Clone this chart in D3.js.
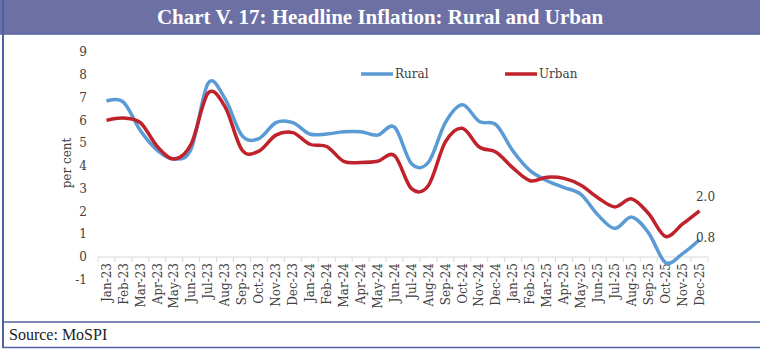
<!DOCTYPE html>
<html lang="en">
<head>
<meta charset="utf-8">
<title>Headline Inflation: Rural and Urban</title>
<script src="https://d3js.org/d3.v7.min.js"></script>
<style>
  body { margin: 0; background: #fff; }
  text { font-family: "Liberation Serif", "DejaVu Serif", serif; }
  .title { fill: #fff; font-weight: bold; font-size: 21px; }
  .tick-label { fill: #404040; font-size: 12px; font-family: "DejaVu Serif", serif; }
  .rural { fill: none; stroke: #5b9bd5; stroke-width: 3.5; }
  .urban { fill: none; stroke: #c0222b; stroke-width: 3.5; }
</style>
</head>
<body>
<script>
// Chart data
var months = ["Jan-23","Feb-23","Mar-23","Apr-23","May-23","Jun-23","Jul-23","Aug-23","Sep-23","Oct-23","Nov-23","Dec-23",
              "Jan-24","Feb-24","Mar-24","Apr-24","May-24","Jun-24","Jul-24","Aug-24","Sep-24","Oct-24","Nov-24","Dec-24",
              "Jan-25","Feb-25","Mar-25","Apr-25","May-25","Jun-25","Jul-25","Aug-25","Sep-25","Oct-25","Nov-25","Dec-25"];
var rural = [6.85, 6.8, 5.55, 4.68, 4.3, 4.75, 7.63, 6.95, 5.33, 5.2, 5.9, 5.9,
             5.4, 5.4, 5.5, 5.5, 5.35, 5.7, 4.1, 4.16, 5.9, 6.68, 5.95, 5.8,
             4.64, 3.79, 3.35, 3.05, 2.75, 1.85, 1.25, 1.75, 1.05, -0.25, 0.15, 0.76];
var urban = [6.0, 6.1, 5.9, 4.85, 4.3, 4.96, 7.2, 6.59, 4.7, 4.65, 5.35, 5.46,
             4.95, 4.85, 4.2, 4.15, 4.2, 4.45, 3.0, 3.14, 5.05, 5.65, 4.83, 4.6,
             3.9, 3.35, 3.5, 3.45, 3.15, 2.6, 2.2, 2.55, 1.9, 0.9, 1.45, 2.03];
var yTicks = [-1, 0, 1, 2, 3, 4, 5, 6, 7, 8, 9];
var seriesNames = ["Rural", "Urban"];
var endLabels = ["0.8", "2.0"];

var w = 760, h = 352;
var svg = d3.select("body").append("svg").attr("width", w).attr("height", h);

// frame
svg.append("rect").attr("x", 0).attr("y", 0).attr("width", w).attr("height", 34).attr("fill", "#6c70a4");
svg.append("line").attr("x1", 0).attr("x2", w).attr("y1", 34).attr("y2", 34).attr("stroke", "#5562a0").attr("stroke-width", 1.5);
svg.append("line").attr("x1", 3).attr("x2", 3).attr("y1", 0).attr("y2", 348).attr("stroke", "#5060a0").attr("stroke-width", 2);
svg.append("line").attr("x1", 3).attr("x2", w).attr("y1", 322).attr("y2", 322).attr("stroke", "#5060a0").attr("stroke-width", 1.5);
svg.append("line").attr("x1", 3).attr("x2", w).attr("y1", 347.5).attr("y2", 347.5).attr("stroke", "#5060a0").attr("stroke-width", 1.5);

svg.append("text").attr("class", "title").attr("x", 380).attr("y", 24)
   .attr("text-anchor", "middle").text("Chart V. 17: Headline Inflation: Rural and Urban");
svg.append("text").attr("x", 9).attr("y", 340).attr("font-size", "16px").attr("fill", "#222")
   .text("Source: MoSPI");

// scales
var xScale = d3.scaleBand().domain(months).range([98, 708]);
var yScale = d3.scaleLinear().domain([0, 9]).range([257, 52]);
var xc = function(i) { return xScale(months[i]) + xScale.bandwidth() / 2; };

// y labels
svg.selectAll(".ylab").data(yTicks).enter().append("text")
   .attr("class", "tick-label").attr("x", 87).attr("y", function(d) { return yScale(d); })
   .attr("dy", "0.35em").attr("text-anchor", "end").text(function(d) { return d; });
svg.append("text").attr("class", "tick-label")
   .attr("transform", "translate(67," + 163 + ") rotate(-90)")
   .attr("text-anchor", "middle").attr("dy", "0.35em").text("per cent");

// x axis at zero
svg.append("line").attr("x1", 98).attr("x2", 708).attr("y1", yScale(0)).attr("y2", yScale(0))
   .attr("stroke", "#d9d9d9").attr("stroke-width", 1);
var bounds = months.map(function(m) { return xScale(m); }).concat([xScale.range()[1]]);
svg.selectAll(".xtick").data(bounds).enter().append("line")
   .attr("x1", function(d) { return d; }).attr("x2", function(d) { return d; })
   .attr("y1", yScale(0)).attr("y2", yScale(0) + 5)
   .attr("stroke", "#d9d9d9");
svg.selectAll(".xlab").data(months).enter().append("text")
   .attr("class", "tick-label")
   .attr("transform", function(d, i) { return "translate(" + xc(i) + "," + 263 + ") rotate(-90)"; })
   .attr("text-anchor", "end").attr("dy", "0.35em").text(function(d) { return d; });

// lines
var line = d3.line()
   .x(function(d, i) { return xc(i); })
   .y(function(d) { return yScale(d); })
   .curve(d3.curveCardinal.tension(0));
svg.append("path").datum(rural).attr("class", "rural").attr("d", line);
svg.append("path").datum(urban).attr("class", "urban").attr("d", line);

// end labels
var last = months.length - 1;
svg.append("text").attr("class", "tick-label").attr("x", xc(last) + 6).attr("y", yScale(urban[last]) - 14)
   .attr("dy", "0.35em").attr("text-anchor", "middle").attr("font-size", "13px").text(endLabels[1]);
svg.append("text").attr("class", "tick-label").attr("x", xc(last) + 6).attr("y", yScale(rural[last]) - 2)
   .attr("dy", "0.35em").attr("text-anchor", "middle").attr("font-size", "13px").text(endLabels[0]);

// legend
var legend = [{name: seriesNames[0], cls: "rural", x: 361}, {name: seriesNames[1], cls: "urban", x: 505}];
legend.forEach(function(l) {
  svg.append("line").attr("class", l.cls).attr("x1", l.x).attr("x2", l.x + 32).attr("y1", 74).attr("y2", 74);
  svg.append("text").attr("class", "tick-label").attr("x", l.x + 34).attr("y", 74).attr("dy", "0.35em")
     .attr("font-size", "13px").text(l.name);
});
</script>
</body>
</html>
